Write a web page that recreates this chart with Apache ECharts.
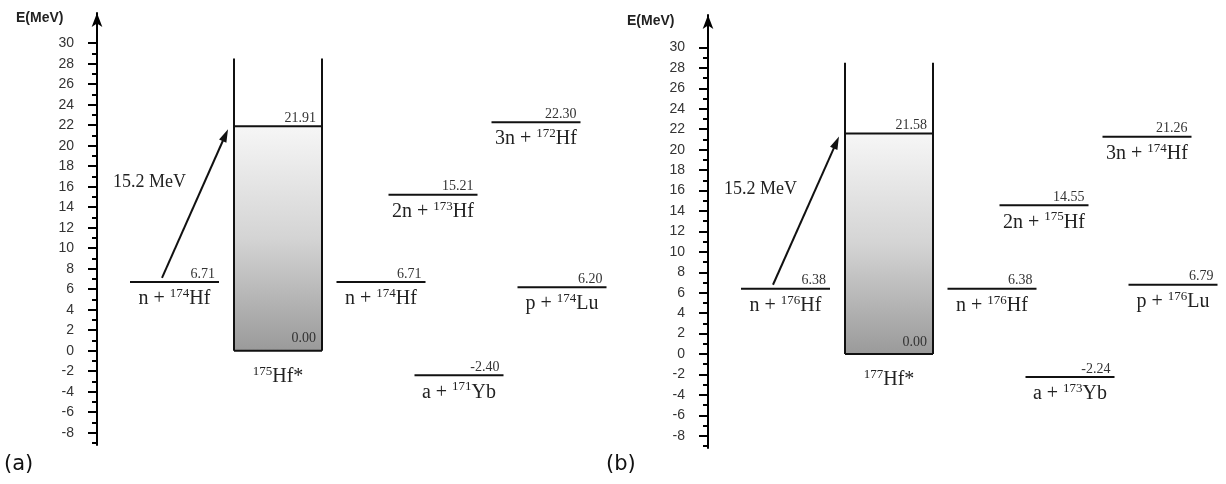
<!DOCTYPE html>
<html>
<head>
<meta charset="utf-8">
<script src="https://cdn.jsdelivr.net/npm/echarts@6/dist/echarts.min.js"></script>
<style>
html,body{margin:0;padding:0;background:#fff}
#chart{width:1226px;height:484px}
</style>
</head>
<body>
<div id="chart"></div>
<script>
// ---------- DATA ----------
// Energy-axis tick labels (MeV)
const yTicks = [-8, -6, -4, -2, 0, 2, 4, 6, 8, 10, 12, 14, 16, 18, 20, 22, 24, 26, 28, 30];
const yMinorTicks = [-9, -7, -5, -3, -1, 1, 3, 5, 7, 9, 11, 13, 15, 17, 19, 21, 23, 25, 27, 29];

// Panel (a): n + 174Hf -> 175Hf*
const channelsA = ['n + ', '3n + ', '2n + ', 'n + ', 'p + ', 'a + '];
const massA = ['174', '172', '173', '174', '174', '171'];
const elementA = ['Hf', 'Hf', 'Hf', 'Hf', 'Lu', 'Yb'];
const energyA = [6.71, 22.30, 15.21, 6.71, 6.20, -2.40];
const compoundMassA = '175';
const compoundElementA = 'Hf*';
const compoundTopA = 21.91;
const compoundGroundA = 0.00;

// Panel (b): n + 176Hf -> 177Hf*
const channelsB = ['n + ', '3n + ', '2n + ', 'n + ', 'p + ', 'a + '];
const massB = ['176', '174', '175', '176', '176', '173'];
const elementB = ['Hf', 'Hf', 'Hf', 'Hf', 'Lu', 'Yb'];
const energyB = [6.38, 21.26, 14.55, 6.38, 6.79, -2.24];
const compoundMassB = '177';
const compoundElementB = 'Hf*';
const compoundTopB = 21.58;
const compoundGroundB = 0.00;

const beamEnergy = 15.2; // MeV
const panelTags = ['(a)', '(b)'];
const axisTitle = 'E(MeV)';

// ---------- LAYOUT (not data) ----------
const levelSlots = [7.75, 43.9, 33.6, 28.4, 46.5, 36.2]; // horizontal slot of each channel
const wellSlot = 18.1;
const LEVEL_HALF = 4.45;
const WELL_HALF = 4.4;
const WALL_TOP = 28.5;

const SERIF = 'Liberation Serif';
const RICH = {
  m: {fontFamily: SERIF, fontSize: 20, lineHeight: 24, fill: '#222', color: '#222'},
  s: {fontFamily: SERIF, fontSize: 13, lineHeight: 13, verticalAlign: 'top', fill: '#222', color: '#222'}
};

const panels = [
  {channels: channelsA, mass: massA, element: elementA, energy: energyA,
   cMass: compoundMassA, cEl: compoundElementA, cTop: compoundTopA, cGround: compoundGroundA},
  {channels: channelsB, mass: massB, element: elementB, energy: energyB,
   cMass: compoundMassB, cEl: compoundElementB, cTop: compoundTopB, cGround: compoundGroundB}
];

function levelRenderer(p) {
  return function (params, api) {
    const xs = api.value(0), e = api.value(1), i = api.value(2);
    const a = api.coord([xs - LEVEL_HALF, e]);
    const b = api.coord([xs + LEVEL_HALF, e]);
    return {
      type: 'group',
      children: [
        {type: 'line', shape: {x1: a[0], y1: a[1], x2: b[0], y2: b[1]}, style: {stroke: '#111', lineWidth: 2}},
        {type: 'text', x: b[0] - 4, y: a[1] - 1,
         style: {text: e.toFixed(2), fontFamily: SERIF, fontSize: 14, fill: '#333', align: 'right', verticalAlign: 'bottom'}},
        {type: 'text', x: (a[0] + b[0]) / 2, y: a[1] + 5,
         style: {text: '{m|' + p.channels[i] + '}{s|' + p.mass[i] + '}{m|' + p.element[i] + '}',
                 rich: RICH, align: 'center', verticalAlign: 'top'}}
      ]
    };
  };
}

function wellRenderer(p) {
  return function (params, api) {
    const xs = api.value(0), eTop = api.value(1), eBot = api.value(2);
    const tl = api.coord([xs - WELL_HALF, eTop]);
    const br = api.coord([xs + WELL_HALF, eBot]);
    const wt = api.coord([xs, WALL_TOP]);
    const grad = new echarts.graphic.LinearGradient(0, 0, 0, 1, [
      {offset: 0, color: '#f6f6f6'},
      {offset: 0.5, color: '#d4d4d4'},
      {offset: 1, color: '#9a9a9a'}
    ]);
    return {
      type: 'group',
      children: [
        {type: 'rect', shape: {x: tl[0], y: tl[1], width: br[0] - tl[0], height: br[1] - tl[1]}, style: {fill: grad}},
        {type: 'line', shape: {x1: tl[0], y1: wt[1], x2: tl[0], y2: br[1]}, style: {stroke: '#111', lineWidth: 2}},
        {type: 'line', shape: {x1: br[0], y1: wt[1], x2: br[0], y2: br[1]}, style: {stroke: '#111', lineWidth: 2}},
        {type: 'line', shape: {x1: tl[0], y1: br[1], x2: br[0], y2: br[1]}, style: {stroke: '#111', lineWidth: 2}},
        {type: 'line', shape: {x1: tl[0], y1: tl[1], x2: br[0], y2: tl[1]}, style: {stroke: '#111', lineWidth: 2}},
        {type: 'text', x: br[0] - 6, y: tl[1] - 1,
         style: {text: eTop.toFixed(2), fontFamily: SERIF, fontSize: 14, fill: '#333', align: 'right', verticalAlign: 'bottom'}},
        {type: 'text', x: br[0] - 6, y: br[1] - 5,
         style: {text: eBot.toFixed(2), fontFamily: SERIF, fontSize: 14, fill: '#333', align: 'right', verticalAlign: 'bottom'}},
        {type: 'text', x: (tl[0] + br[0]) / 2, y: br[1] + 14,
         style: {text: '{s|' + p.cMass + '}{m|' + p.cEl + '}', rich: RICH, align: 'center', verticalAlign: 'top'}}
      ]
    };
  };
}

function arrowRenderer() {
  return function (params, api) {
    const x0 = api.value(0), e0 = api.value(1), x1 = api.value(2), e1 = api.value(3);
    const s = api.coord([x0 - 1.25, e0 + 0.4]);
    const t = api.coord([x1 - 5.0, e1 - 0.3]);
    const dx = t[0] - s[0], dy = t[1] - s[1];
    const len = Math.sqrt(dx * dx + dy * dy);
    const ux = dx / len, uy = dy / len;
    const headL = 13, headW = 4;
    const bx = t[0] - ux * headL, by = t[1] - uy * headL;
    const mx = (s[0] + t[0]) / 2, my = (s[1] + t[1]) / 2;
    return {
      type: 'group',
      children: [
        {type: 'line', shape: {x1: s[0], y1: s[1], x2: bx + ux * 2, y2: by + uy * 2}, style: {stroke: '#111', lineWidth: 2}},
        {type: 'polygon', shape: {points: [[t[0], t[1]], [bx - uy * headW, by + ux * headW], [bx + uy * headW, by - ux * headW]]},
         style: {fill: '#111'}},
        {type: 'text', x: mx - 9, y: my - 21,
         style: {text: beamEnergy.toFixed(1) + ' MeV', fontFamily: SERIF, fontSize: 18, fill: '#222', align: 'right', verticalAlign: 'middle'}}
      ]
    };
  };
}

const grids = [
  {left: 97, top: 13, width: 520, height: 432, yMin: -9.2, yMax: 32.95, xMax: 52},
  {left: 708, top: 15, width: 518, height: 433, yMin: -9.2, yMax: 33.18, xMax: 51.8}
];

const option = {
  animation: false,
  backgroundColor: '#fff',
  grid: grids.map(g => ({left: g.left, top: g.top, width: g.width, height: g.height, containLabel: false})),
  xAxis: grids.map((g, k) => ({gridIndex: k, type: 'value', min: 0, max: g.xMax, show: false})),
  yAxis: [],
  series: [],
  graphic: []
};

grids.forEach((g, k) => {
  option.yAxis.push({
    gridIndex: k, type: 'value', min: g.yMin, max: g.yMax, position: 'left',
    axisLine: {show: true, onZero: false, symbol: ['none', 'arrow'], symbolSize: [8, 14],
               lineStyle: {color: '#000', width: 2}},
    axisTick: {show: true, inside: false, length: 9, customValues: yTicks, lineStyle: {color: '#000', width: 2}},
    axisLabel: {show: true, customValues: yTicks, margin: 23, fontFamily: 'Liberation Sans', fontSize: 14, color: '#333'},
    splitLine: {show: false}
  });
});
grids.forEach((g, k) => {
  option.yAxis.push({
    gridIndex: k, type: 'value', min: g.yMin, max: g.yMax, position: 'left',
    axisLine: {show: false},
    axisTick: {show: true, inside: false, length: 5, customValues: yMinorTicks, lineStyle: {color: '#000', width: 2}},
    axisLabel: {show: false},
    splitLine: {show: false}
  });
});

panels.forEach((p, k) => {
  option.series.push({
    type: 'custom', xAxisIndex: k, yAxisIndex: k, renderItem: wellRenderer(p),
    data: [[wellSlot, p.cTop, p.cGround]]
  });
  option.series.push({
    type: 'custom', xAxisIndex: k, yAxisIndex: k, renderItem: levelRenderer(p),
    data: p.energy.map((e, i) => [levelSlots[i], e, i])
  });
  option.series.push({
    type: 'custom', xAxisIndex: k, yAxisIndex: k, renderItem: arrowRenderer(),
    data: [[levelSlots[0], p.energy[0], wellSlot, p.cTop]]
  });
});

option.graphic = [
  {type: 'text', left: 16, top: 11, style: {text: axisTitle, font: 'bold 14px "Liberation Sans"', fill: '#222'}},
  {type: 'text', left: 627, top: 14, style: {text: axisTitle, font: 'bold 14px "Liberation Sans"', fill: '#222'}},
  {type: 'text', left: 4, top: 454, style: {text: panelTags[0], font: '21px "DejaVu Sans"', fill: '#111'}},
  {type: 'text', left: 606, top: 454, style: {text: panelTags[1], font: '21px "DejaVu Sans"', fill: '#111'}}
];

const chart = echarts.init(document.getElementById('chart'), null, {renderer: 'canvas'});
chart.setOption(option);
</script>
</body>
</html>
